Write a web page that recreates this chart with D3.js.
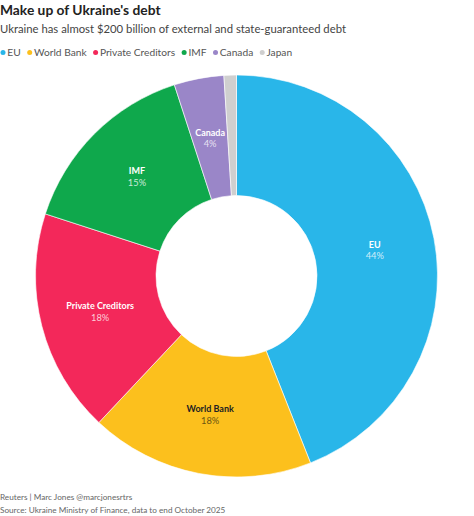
<!DOCTYPE html>
<html>
<head>
<meta charset="utf-8">
<script src="https://cdn.jsdelivr.net/npm/d3@7"></script>
<style>
  body { margin: 0; background: #fff; }
  svg { display: block; font-family: Lato, "Open Sans", sans-serif; }
</style>
</head>
<body>
<div id="chart"></div>
<script>
// data
const categories = ['EU', 'World Bank', 'Private Creditors', 'IMF', 'Canada', 'Japan'];
const shares = [44, 18, 18, 15, 4, 1];
const colors = ['#29b6e9', '#fcc01d', '#f3285a', '#0fa84c', '#9a86c8', '#cfcfcf'];

const width = 474;
const height = 516;

const svg = d3.select('#chart')
              .append('svg')
              .attr('width', width)
              .attr('height', height);

svg.append('text')
   .attr('x', 0)
   .attr('y', 15)
   .style('font-size', '13.8px')
   .style('font-weight', 700)
   .attr('fill', '#222')
   .text("Make up of Ukraine's debt");

svg.append('text')
   .attr('x', 0)
   .attr('y', 32.5)
   .style('font-size', '11.3px')
   .attr('fill', '#444')
   .text('Ukraine has almost $200 billion of external and state-guaranteed debt');

// legend, laid out by measured text widths
const legend = svg.append('g').attr('transform', 'translate(0, 52.5)');
let lx = 3;
categories.forEach((c, i) => {
  legend.append('circle')
        .attr('cx', lx)
        .attr('cy', 0)
        .attr('r', 2.5)
        .attr('fill', colors[i]);
  const t = legend.append('text')
                  .attr('x', lx + 4.3)
                  .attr('y', 3.6)
                  .style('font-size', '10.2px')
                  .attr('fill', '#555')
                  .text(c);
  lx += 4.3 + t.node().getComputedTextLength() + 9;
});

const cx = 236.5;
const cy = 276;
const outerR = 201;
const innerR = 80.5;

const pie = d3.pie().sort(null).value((d) => d.value);
const arc = d3.arc().innerRadius(innerR).outerRadius(outerR);

const data = categories.map((c, i) => ({ name: c, value: shares[i], color: colors[i] }));
const arcs = pie(data);

const donut = svg.append('g').attr('transform', 'translate(' + cx + ', ' + cy + ')');

donut.selectAll('path')
     .data(arcs)
     .enter()
     .append('path')
     .attr('d', arc)
     .attr('fill', (d) => d.data.color)
     .attr('stroke', '#fff')
     .attr('stroke-width', 0.6);

const labels = donut.selectAll('g.label')
                    .data(arcs.filter((d) => d.data.name !== 'Japan'))
                    .enter()
                    .append('g')
                    .attr('class', 'label')
                    .attr('transform', (d) => 'translate(' + arc.centroid(d) + ')');

labels.append('text')
      .attr('text-anchor', 'middle')
      .attr('y', -2)
      .style('font-size', '9px')
      .style('font-weight', 700)
      .attr('fill', (d) => d.data.name === 'World Bank' ? '#222' : '#fff')
      .text((d) => d.data.name);

labels.append('text')
      .attr('text-anchor', 'middle')
      .attr('y', 9.5)
      .style('font-size', '9.3px')
      .attr('fill', (d) => d.data.name === 'World Bank' ? '#6b5512' : 'rgba(255,255,255,0.78)')
      .text((d) => d.data.value + '%');

svg.append('text')
   .attr('x', 0)
   .attr('y', 499.5)
   .style('font-size', '8.2px')
   .attr('fill', '#666')
   .text('Reuters | Marc Jones @marcjonesrtrs');

svg.append('text')
   .attr('x', 0)
   .attr('y', 513)
   .style('font-size', '8.2px')
   .attr('fill', '#666')
   .text('Source: Ukraine Ministry of Finance, data to end October 2025');
</script>
</body>
</html>
